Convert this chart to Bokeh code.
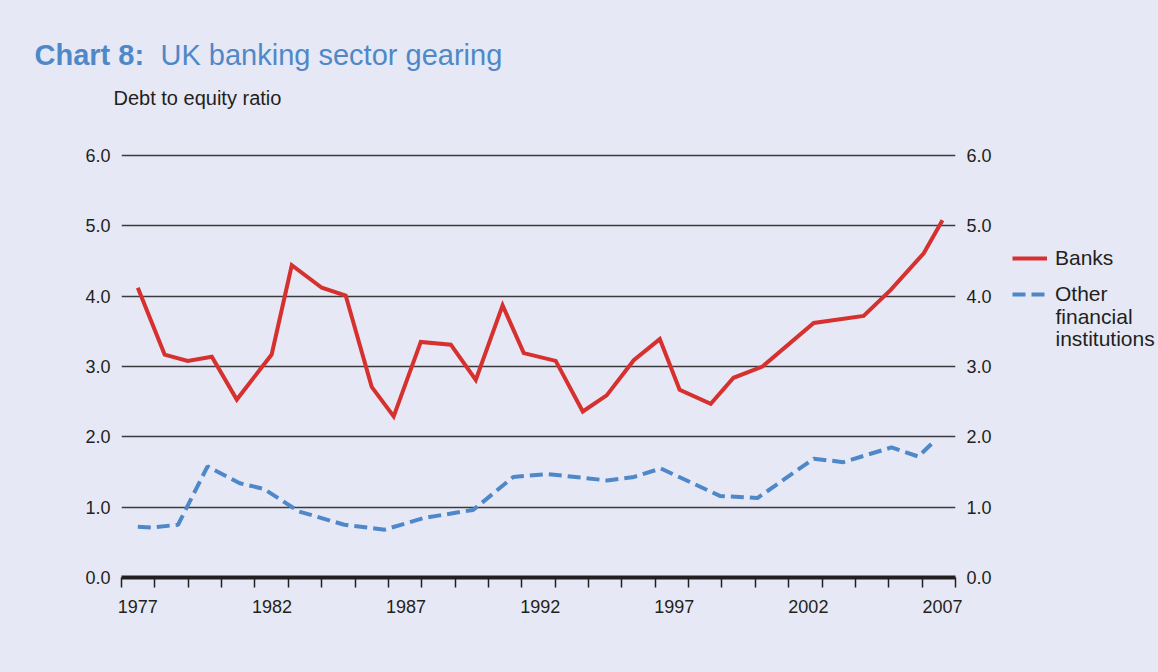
from bokeh.plotting import figure
from bokeh.models import (Range1d, LinearAxis, FixedTicker, PrintfTickFormatter,
                          Label, Legend, LegendItem)
from bokeh.layouts import column, row
from bokeh.embed import file_html
from bokeh.resources import INLINE
import numpy as np

# ---------------- data ----------------
bank_year = [1977.0, 1978.0, 1978.86, 1979.76, 1980.69, 1981.99, 1982.74, 1983.86,
             1984.75, 1985.72, 1986.54, 1987.55, 1988.67, 1989.6, 1990.6, 1991.39,
             1992.58, 1993.59, 1994.48, 1995.49, 1996.46, 1997.2, 1998.36, 1999.21,
             2000.29, 2002.2, 2004.06, 2005.07, 2006.3, 2007.0]
bank_ratio = [4.12, 3.17, 3.08, 3.14, 2.53, 3.17, 4.44, 4.12, 4.01, 2.71, 2.29, 3.35,
              3.31, 2.81, 3.87, 3.19, 3.08, 2.36, 2.59, 3.09, 3.39, 2.67, 2.47, 2.84,
              3.0, 3.62, 3.72, 4.09, 4.61, 5.08]

ofi_year = [1977.0, 1977.5, 1978.5, 1979.6, 1980.8, 1981.7, 1983.0, 1984.7, 1986.2,
            1987.7, 1989.5, 1991.0, 1992.3, 1994.5, 1995.5, 1996.5, 1998.7, 2000.1,
            2002.2, 2003.3, 2005.1, 2006.1, 2006.7]
ofi_ratio = [0.72, 0.71, 0.75, 1.58, 1.34, 1.26, 0.94, 0.75, 0.68, 0.85, 0.96, 1.43,
             1.47, 1.38, 1.43, 1.55, 1.16, 1.13, 1.69, 1.64, 1.85, 1.72, 1.94]

x_tick_years = [1977, 1982, 1987, 1992, 1997, 2002, 2007]
y_ticks = [0, 1, 2, 3, 4, 5, 6]

title_bold = "Chart 8:"
title_rest = "UK banking sector gearing"
y_label = "Debt to equity ratio"
series_names = ["Banks", "Other"]
ofi_name_rest = ["financial", "institutions"]

# ---------------- styling ----------------
FONT = "Liberation Sans"
BG = "#e6e9f5"
RED = "#d6312f"
BLUE = "#4f88c9"
TITLE_C = "#4f88c9"
INK = "#231f20"
BLUE_DASH = "13 6"

W, H = 1158, 672
HEAD_H = 120          # header strip (title + unit label)
MAIN_W = 1000         # main chart width; legend strip to its right
FRAME_L, FRAME_T, FRAME_B, FRAME_R = 121, 148, 577, 955

X0, X1 = 1976.392, 2007.485
Y0, Y1 = 0.0, 6.1

def plain_fig(w, h):
    f = figure(width=w, height=h, x_range=Range1d(0, 1), y_range=Range1d(0, 1),
               output_backend="svg", toolbar_location=None,
               min_border=0, background_fill_color=BG, border_fill_color=BG,
               outline_line_color=None, x_axis_location=None, y_axis_location=None)
    f.grid.visible = False
    return f

def slabel(fig, sx, sy, text, size, style="normal", color=INK, baseline="middle"):
    # sx, sy: screen px from the figure frame's bottom-left corner
    fig.add_layout(Label(x=sx, y=sy, x_units="screen", y_units="screen", text=text,
                         text_font=FONT, text_font_size=size, text_font_style=style,
                         text_color=color, text_baseline=baseline))

# ---------------- header (frame bottom at page y = HEAD_H) ----------------
head = plain_fig(W, HEAD_H)
slabel(head, 34, HEAD_H - 54, title_bold, "29px", "bold", TITLE_C)
slabel(head, 160, HEAD_H - 54, title_rest, "29px", "normal", TITLE_C)
slabel(head, 113, HEAD_H - 97, y_label, "20px")

# ---------------- main chart ----------------
MAIN_H = H - HEAD_H
p = figure(width=MAIN_W, height=MAIN_H, x_range=Range1d(X0, X1),
           y_range=Range1d(Y0, Y1), output_backend="svg", toolbar_location=None,
           min_border_left=FRAME_L, min_border_right=MAIN_W - FRAME_R,
           min_border_top=FRAME_T - HEAD_H, min_border_bottom=H - FRAME_B,
           background_fill_color=BG, border_fill_color=BG, outline_line_color=None)

xa = p.xaxis[0]
minor = list(np.linspace(X0 + 1e-6, X1 - 1e-6, 26))
xa.ticker = FixedTicker(ticks=x_tick_years, minor_ticks=minor)
xa.major_tick_out = 0
xa.major_tick_in = 0
xa.minor_tick_out = 10
xa.minor_tick_in = 0
xa.minor_tick_line_width = 1.5
xa.minor_tick_line_color = INK
xa.axis_line_width = 4
xa.axis_line_color = INK
xa.major_label_standoff = 12
xa.major_label_text_font = FONT
xa.major_label_text_font_size = "18px"
xa.major_label_text_color = INK
p.xgrid.visible = False

def style_y(ax):
    ax.ticker = FixedTicker(ticks=y_ticks)
    ax.formatter = PrintfTickFormatter(format="%.1f")
    ax.axis_line_color = None
    ax.major_tick_line_color = None
    ax.minor_tick_line_color = None
    ax.major_tick_out = 0
    ax.major_tick_in = 0
    ax.major_label_standoff = 11
    ax.major_label_text_font = FONT
    ax.major_label_text_font_size = "18px"
    ax.major_label_text_color = INK

style_y(p.yaxis[0])
ra = LinearAxis()
style_y(ra)
p.add_layout(ra, "right")

p.ygrid.ticker = FixedTicker(ticks=y_ticks)
p.ygrid.grid_line_color = "#3a3a3e"
p.ygrid.grid_line_width = 1.5

p.line(bank_year, bank_ratio, line_color=RED, line_width=4, line_join="miter")
p.line(ofi_year, ofi_ratio, line_color=BLUE, line_width=4, line_dash=BLUE_DASH)

# ---------------- legend strip (frame aligned with main frame: page y 148..577) ----
LEG_W = W - MAIN_W
leg = plain_fig(LEG_W, MAIN_H)
# key renderers (no visible data; only their styles feed the legend samples)
k1 = leg.line([np.nan], [np.nan], line_color=RED, line_width=4)
k2 = leg.line([np.nan], [np.nan], line_color=BLUE, line_width=4, line_dash=BLUE_DASH)

legend = Legend(items=[LegendItem(label=series_names[0], renderers=[k1]),
                       LegendItem(label=series_names[1], renderers=[k2])],
                location=(1012 - MAIN_W, FRAME_B - 306), padding=0, margin=0,
                spacing=12, glyph_width=35, glyph_height=20, label_standoff=8,
                label_text_font=FONT, label_text_font_size="21px",
                label_text_color=INK, background_fill_alpha=0,
                border_line_color=None)
leg.add_layout(legend)
slabel(leg, 1055 - MAIN_W, FRAME_B - 316, ofi_name_rest[0], "21px")
slabel(leg, 1055 - MAIN_W, FRAME_B - 338, ofi_name_rest[1], "21px")

bg_style = {"background-color": BG}
layout = column(head, row(p, leg, spacing=0, styles=bg_style), spacing=0,
                styles=bg_style)
open("out.html", "w").write(file_html(layout, INLINE))
